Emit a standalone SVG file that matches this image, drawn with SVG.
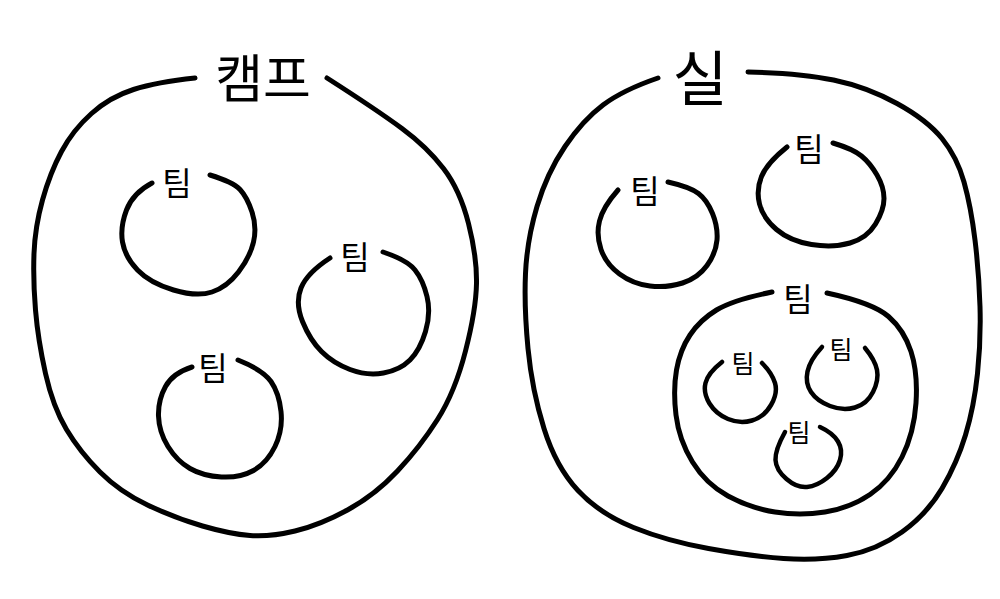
<svg xmlns="http://www.w3.org/2000/svg" width="1000" height="599" viewBox="0 0 1000 599">
<style>
.ln{fill:none;stroke:#000;stroke-width:5;stroke-linecap:round;stroke-linejoin:round}
.sm{stroke-width:4.5}
.t{font-family:"Noto Sans CJK KR","Noto Sans",sans-serif;fill:#000;text-anchor:middle}
.big{font-size:52px}
.mid{font-size:32px}
.small{font-size:25px}
</style>
<rect width="1000" height="599" fill="#fff"/>
<g id="camp">
<path class="ln" d="M195,78 Q157,82 133.5,89.5 Q110,97 91.5,113.5 Q73,130 61.5,151.5 Q50,173 42.5,200 Q35,227 34,253.5 Q33,280 35.5,310 Q38,340 45.5,373.5 Q53,407 66.5,429.5 Q80,452 100,472 Q120,492 147.5,505 Q175,518 202.5,526 Q230,534 250,535.5 Q270,537 295,531 Q320,525 347.5,510 Q375,495 397.5,471 Q420,447 437.5,419.5 Q455,392 465.5,351 Q476,310 476.5,283.5 Q477,257 468.5,223.5 Q460,190 443.5,168.5 Q427,147 402,128.5 Q377,110 327,78"/>
<text class="t big" x="263" y="98">캠프</text>
</g>
<g id="camp-team1">
<path class="ln" d="M152,183 Q133,193 126.5,210 Q120,227 122.5,242 Q125,257 137.5,270 Q150,283 173.5,290 Q197,297 212,292 Q227,287 238.5,272 Q250,257 253.5,242 Q257,227 252,212 Q247,197 240,189.5 Q233,182 210,175"/>
<text class="t mid" x="177" y="195">팀</text>
</g>
<g id="camp-team2">
<path class="ln" d="M330,258 Q307,273 301,288 Q295,303 302.5,321.5 Q310,340 321.5,351.5 Q333,363 350,369.5 Q367,376 383.5,373 Q400,370 410,360 Q420,350 425.5,331.5 Q431,313 427,296.5 Q423,280 415,270 Q407,260 383,252"/>
<text class="t mid" x="355" y="269">팀</text>
</g>
<g id="camp-team3">
<path class="ln" d="M192,367 Q173,373 165.5,386.5 Q158,400 158.5,416 Q159,432 168,446.5 Q177,461 190,468.5 Q203,476 221.5,477 Q240,478 253.5,470.5 Q267,463 275,446.5 Q283,430 281,411.5 Q279,393 271,381.5 Q263,370 238,360"/>
<text class="t mid" x="213" y="380">팀</text>
</g>
<g id="sil">
<path class="ln" d="M658,78 Q623,90 603,105 Q583,120 565,146.5 Q547,173 537,206.5 Q527,240 525.5,273.5 Q524,307 528,348.5 Q532,390 544,428.5 Q556,467 578,490.5 Q600,514 633.5,527.5 Q667,541 708.5,548.5 Q750,556 783.5,558.5 Q817,561 847,555.5 Q877,550 902,532 Q927,514 942,488.5 Q957,463 965.5,435 Q974,407 977.5,373.5 Q981,340 980,306.5 Q979,273 975,240 Q971,207 964,182 Q957,157 942,138.5 Q927,120 897,103.5 Q867,87 833.5,80 Q800,73 748,72"/>
<text class="t" style="font-size:60px" x="700" y="101">실</text>
</g>
<g id="sil-team1">
<path class="ln" d="M618,190 Q603,207 599.5,221 Q596,235 601,249.5 Q606,264 619.5,274 Q633,284 650,286 Q667,288 682.5,283 Q698,278 707,265.5 Q716,253 717,240 Q718,227 712.5,213.5 Q707,200 698.5,193.5 Q690,187 668,182"/>
<text class="t mid" x="645" y="203">팀</text>
</g>
<g id="sil-team2">
<path class="ln" d="M787,147 Q767,163 761.5,176.5 Q756,190 759.5,204 Q763,218 776.5,229.5 Q790,241 811.5,244.5 Q833,248 850,243 Q867,238 875.5,224 Q884,210 884,198.5 Q884,187 877,175 Q870,163 861.5,156 Q853,149 833,143"/>
<text class="t mid" x="809" y="161">팀</text>
</g>
<g id="sil-team3">
<path class="ln" d="M772,292 Q733,300 716.5,310 Q700,320 690,335 Q680,350 676.5,370 Q673,390 676,415 Q679,440 692.5,462 Q706,484 728,496 Q750,508 775,512 Q800,516 825,512 Q850,508 870,494.5 Q890,481 902,457 Q914,433 916,403 Q918,373 911,351.5 Q904,330 888.5,316.5 Q873,303 827,293"/>
<text class="t mid" x="798" y="311">팀</text>
</g>
<g id="sub-team1">
<path class="ln sm" d="M722,362 Q708,373 705.5,383 Q703,393 709.5,403.5 Q716,414 728,419 Q740,424 752,420.5 Q764,417 771,405 Q778,393 775,383 Q772,373 762,363"/>
<text class="t small" x="743" y="373">팀</text>
</g>
<g id="sub-team2">
<path class="ln sm" d="M822,347 Q810,360 807.5,371.5 Q805,383 811,392 Q817,401 830,406 Q843,411 855,407.5 Q867,404 873,392 Q879,380 877,370 Q875,360 865,348"/>
<text class="t small" x="841" y="359">팀</text>
</g>
<g id="sub-team3">
<path class="ln sm" d="M785,432 Q775,450 775.5,460 Q776,470 786.5,479 Q797,488 807,487 Q817,486 827,478 Q837,470 840,460 Q843,450 838,441.5 Q833,433 820,427"/>
<text class="t small" x="799" y="442">팀</text>
</g>
<g id="connectors"></g>
</svg>
